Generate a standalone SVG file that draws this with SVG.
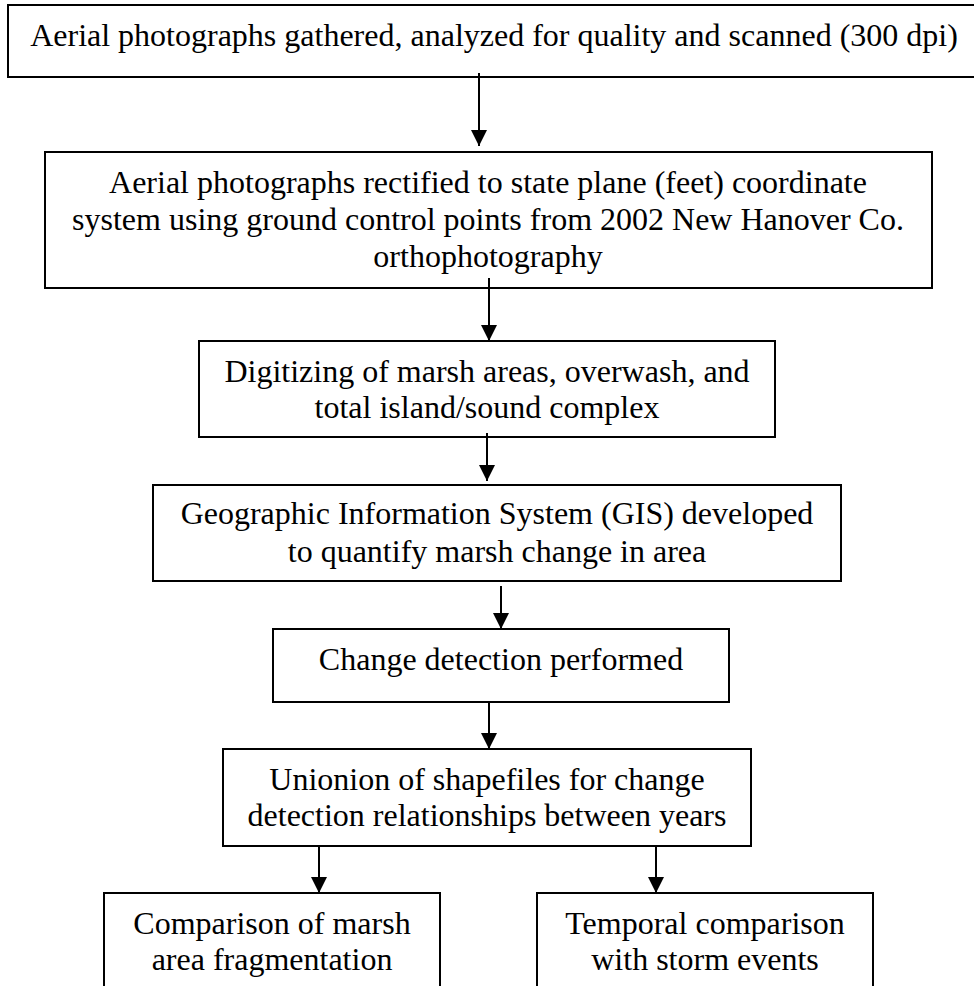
<svg xmlns="http://www.w3.org/2000/svg" width="974" height="986" viewBox="0 0 974 986">
  <style>
    .box { fill: #ffffff; stroke: #000000; stroke-width: 2; }
    .lbl { font-family: "Liberation Serif", "Times New Roman", serif; font-size: 32px; fill: #000000; text-anchor: middle; }
    .conn { stroke: #000000; stroke-width: 2; fill: none; marker-end: url(#arrow); }
  </style>
  <defs>
    <marker id="arrow" viewBox="0 0 16 16" refX="16" refY="8" markerWidth="16" markerHeight="16" markerUnits="userSpaceOnUse" orient="auto">
      <path d="M0,0 L16,8 L0,16 z" fill="#000000"/>
    </marker>
  </defs>
  <rect width="974" height="986" fill="#ffffff"/>

  <g id="node1">
    <rect class="box" x="8" y="5" width="974" height="72"/>
    <text class="lbl" x="494" y="46">Aerial photographs gathered, analyzed for quality and scanned (300 dpi)</text>
  </g>
  <g id="node2">
    <rect class="box" x="45" y="152" width="887" height="136"/>
    <text class="lbl" x="488" y="193">Aerial photographs rectified to state plane (feet) coordinate</text>
    <text class="lbl" x="488" y="230">system using ground control points from 2002 New Hanover Co.</text>
    <text class="lbl" x="488" y="267">orthophotography</text>
  </g>
  <g id="node3">
    <rect class="box" x="199" y="341" width="576" height="96"/>
    <text class="lbl" x="487" y="382">Digitizing of marsh areas, overwash, and</text>
    <text class="lbl" x="487" y="418">total island/sound complex</text>
  </g>
  <g id="node4">
    <rect class="box" x="153" y="485" width="688" height="96"/>
    <text class="lbl" x="497" y="524">Geographic Information System (GIS) developed</text>
    <text class="lbl" x="497" y="562">to quantify marsh change in area</text>
  </g>
  <g id="node5">
    <rect class="box" x="273" y="629" width="456" height="73"/>
    <text class="lbl" x="501" y="670">Change detection performed</text>
  </g>
  <g id="node6">
    <rect class="box" x="223" y="749" width="528" height="97"/>
    <text class="lbl" x="487" y="790">Unionion of shapefiles for change</text>
    <text class="lbl" x="487" y="826">detection relationships between years</text>
  </g>
  <g id="node7">
    <rect class="box" x="104" y="893" width="336" height="110"/>
    <text class="lbl" x="272" y="934">Comparison of marsh</text>
    <text class="lbl" x="272" y="970">area fragmentation</text>
  </g>
  <g id="node8">
    <rect class="box" x="537" y="893" width="336" height="110"/>
    <text class="lbl" x="705" y="934">Temporal comparison</text>
    <text class="lbl" x="705" y="970">with storm events</text>
  </g>

  <g id="connectors">
    <line class="conn" x1="479" y1="73" x2="479" y2="146"/>
    <line class="conn" x1="489" y1="278" x2="489" y2="341"/>
    <line class="conn" x1="487" y1="433" x2="487" y2="481"/>
    <line class="conn" x1="501" y1="586" x2="501" y2="629"/>
    <line class="conn" x1="489" y1="702" x2="489" y2="749"/>
    <line class="conn" x1="319" y1="846" x2="319" y2="893"/>
    <line class="conn" x1="656" y1="846" x2="656" y2="893"/>
  </g>
</svg>
